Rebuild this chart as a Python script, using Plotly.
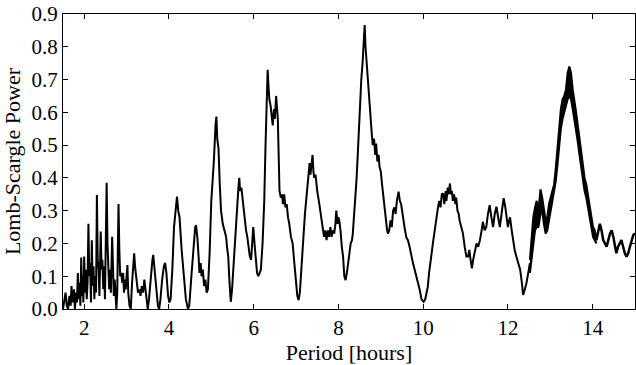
import plotly.graph_objects as go

# Main periodogram line (period in hours, Lomb-Scargle power)
period_main = [1.50,1.53,1.56,1.59,1.62,1.65,1.68,1.70,1.73,1.76,1.78,1.81,1.83,1.85,1.87,1.89,1.91,1.93,1.95,1.97,1.98,2.00,2.02,2.04,2.06,2.08,2.10,2.12,2.14,2.16,2.18,2.20,2.22,2.24,2.26,2.28,2.30,2.32,2.34,2.36,2.39,2.41,2.43,2.45,2.47,2.49,2.53,2.55,2.57,2.59,2.61,2.63,2.66,2.68,2.70,2.72,2.74,2.76,2.78,2.81,2.83,2.85,2.87,2.90,2.92,2.94,2.96,2.98,3.02,3.04,3.07,3.10,3.13,3.16,3.18,3.20,3.24,3.27,3.30,3.33,3.36,3.39,3.42,3.45,3.47,3.50,3.53,3.57,3.61,3.63,3.66,3.70,3.74,3.77,3.80,3.84,3.88,3.91,3.94,3.98,4.01,4.04,4.08,4.12,4.16,4.19,4.22,4.25,4.30,4.35,4.40,4.45,4.48,4.53,4.58,4.62,4.64,4.67,4.70,4.72,4.75,4.77,4.80,4.83,4.86,4.89,4.92,4.96,5.00,5.03,5.06,5.10,5.12,5.14,5.17,5.20,5.23,5.27,5.31,5.35,5.37,5.40,5.43,5.46,5.49,5.53,5.57,5.60,5.62,5.64,5.66,5.68,5.71,5.74,5.78,5.82,5.85,5.88,5.91,5.94,5.97,5.99,6.02,6.05,6.08,6.11,6.14,6.17,6.21,6.25,6.28,6.31,6.33,6.35,6.37,6.40,6.43,6.45,6.48,6.50,6.53,6.55,6.57,6.59,6.61,6.64,6.67,6.69,6.72,6.75,6.78,6.81,6.84,6.88,6.92,6.96,7.00,7.03,7.06,7.09,7.13,7.17,7.21,7.24,7.27,7.30,7.32,7.34,7.37,7.39,7.41,7.43,7.46,7.50,7.55,7.59,7.63,7.66,7.69,7.72,7.75,7.78,7.81,7.84,7.87,7.90,7.93,7.95,7.98,8.00,8.02,8.05,8.08,8.11,8.14,8.17,8.20,8.23,8.26,8.29,8.32,8.34,8.37,8.40,8.43,8.46,8.49,8.52,8.54,8.57,8.59,8.62,8.64,8.66,8.68,8.70,8.73,8.75,8.77,8.79,8.81,8.84,8.87,8.89,8.92,8.95,8.97,9.00,9.03,9.06,9.09,9.12,9.15,9.17,9.20,9.23,9.26,9.29,9.32,9.35,9.38,9.42,9.45,9.48,9.52,9.56,9.60,9.64,9.68,9.72,9.76,9.80,9.84,9.88,9.92,9.96,10.01,10.05,10.08,10.11,10.14,10.17,10.20,10.23,10.26,10.29,10.32,10.35,10.38,10.41,10.44,10.47,10.50,10.53,10.55,10.58,10.61,10.63,10.66,10.68,10.70,10.73,10.76,10.78,10.81,10.84,10.86,10.90,10.94,10.98,11.02,11.06,11.09,11.12,11.15,11.18,11.22,11.26,11.30,11.34,11.38,11.41,11.45,11.49,11.53,11.57,11.61,11.65,11.69,11.73,11.77,11.81,11.86,11.90,11.94,11.97,12.00,12.03,12.05,12.09,12.13,12.16,12.20,12.25,12.29,12.33,12.36,12.40,12.44,12.48,12.52]
power_main = [0.00,0.03,0.05,0.01,0.00,0.04,0.01,0.07,0.02,0.06,0.00,0.05,0.02,0.11,0.03,0.08,0.01,0.157,0.04,0.10,0.02,0.16,0.05,0.12,0.03,0.08,0.26,0.10,0.14,0.02,0.21,0.07,0.13,0.03,0.10,0.05,0.348,0.15,0.12,0.04,0.236,0.12,0.15,0.06,0.13,0.03,0.385,0.20,0.10,0.06,0.12,0.05,0.22,0.10,0.04,0.09,0.02,0.00,0.05,0.32,0.18,0.10,0.11,0.08,0.11,0.05,0.09,0.06,0.134,0.05,0.01,0.00,0.08,0.15,0.17,0.13,0.08,0.05,0.06,0.04,0.07,0.05,0.09,0.05,0.02,0.00,0.03,0.10,0.15,0.165,0.12,0.06,0.01,0.00,0.03,0.09,0.13,0.141,0.11,0.04,0.02,0.03,0.12,0.25,0.31,0.343,0.30,0.28,0.18,0.09,0.03,0.00,0.01,0.10,0.20,0.25,0.256,0.22,0.16,0.11,0.14,0.10,0.12,0.07,0.09,0.05,0.06,0.17,0.33,0.38,0.45,0.56,0.587,0.52,0.49,0.38,0.30,0.26,0.24,0.22,0.19,0.16,0.08,0.022,0.06,0.15,0.24,0.30,0.33,0.37,0.40,0.36,0.37,0.33,0.28,0.24,0.22,0.19,0.16,0.15,0.21,0.25,0.20,0.15,0.11,0.10,0.11,0.12,0.20,0.33,0.50,0.65,0.73,0.68,0.64,0.62,0.57,0.56,0.61,0.58,0.65,0.60,0.58,0.47,0.36,0.34,0.35,0.32,0.35,0.31,0.32,0.28,0.26,0.22,0.20,0.14,0.08,0.04,0.027,0.05,0.13,0.22,0.29,0.333,0.38,0.42,0.445,0.41,0.46,0.47,0.42,0.40,0.41,0.36,0.32,0.28,0.25,0.22,0.24,0.21,0.24,0.22,0.25,0.22,0.24,0.23,0.26,0.30,0.26,0.28,0.27,0.24,0.19,0.16,0.10,0.088,0.11,0.15,0.17,0.20,0.21,0.23,0.28,0.34,0.40,0.48,0.58,0.66,0.70,0.75,0.80,0.866,0.80,0.76,0.72,0.68,0.64,0.58,0.556,0.53,0.50,0.52,0.47,0.505,0.45,0.47,0.434,0.42,0.38,0.34,0.31,0.27,0.24,0.23,0.24,0.27,0.25,0.30,0.31,0.29,0.33,0.358,0.33,0.32,0.28,0.25,0.22,0.21,0.19,0.16,0.14,0.12,0.10,0.08,0.058,0.03,0.022,0.03,0.05,0.068,0.11,0.15,0.17,0.20,0.23,0.26,0.28,0.31,0.33,0.31,0.35,0.353,0.32,0.36,0.33,0.37,0.35,0.383,0.35,0.36,0.33,0.35,0.32,0.34,0.30,0.29,0.27,0.25,0.23,0.19,0.16,0.16,0.18,0.15,0.124,0.15,0.18,0.20,0.19,0.21,0.24,0.266,0.24,0.25,0.29,0.317,0.28,0.25,0.29,0.312,0.28,0.25,0.30,0.338,0.31,0.27,0.25,0.27,0.28,0.24,0.20,0.18,0.16,0.14,0.12,0.08,0.043,0.06,0.08,0.11,0.14]

# Thick (rapidly oscillating) band near 12.5-14.1 h: upper/lower envelopes
period_band = [12.52,12.56,12.60,12.64,12.68,12.72,12.77,12.81,12.85,12.89,12.93,12.97,13.01,13.05,13.09,13.13,13.17,13.21,13.25,13.29,13.33,13.37,13.41,13.45,13.49,13.53,13.57,13.61,13.65,13.69,13.73,13.77,13.81,13.85,13.89,13.93,13.97,14.01,14.05,14.09]
power_band_upper = [0.15,0.22,0.28,0.31,0.33,0.30,0.365,0.34,0.31,0.27,0.28,0.32,0.34,0.36,0.38,0.43,0.49,0.56,0.61,0.64,0.65,0.67,0.72,0.74,0.72,0.67,0.64,0.60,0.56,0.52,0.48,0.44,0.40,0.38,0.35,0.32,0.28,0.25,0.24,0.22]
power_band_lower = [0.11,0.16,0.21,0.24,0.25,0.25,0.29,0.30,0.26,0.23,0.24,0.27,0.30,0.32,0.35,0.39,0.44,0.50,0.55,0.58,0.60,0.62,0.64,0.65,0.64,0.61,0.58,0.54,0.51,0.47,0.43,0.39,0.36,0.34,0.31,0.28,0.25,0.22,0.21,0.20]

# Tail after the band
period_tail = [14.09,14.13,14.17,14.21,14.25,14.29,14.33,14.37,14.41,14.45,14.49,14.53,14.56,14.60,14.64,14.68,14.72,14.76,14.80,14.84,14.88,14.92,14.96,15.00]
power_tail = [0.21,0.24,0.26,0.24,0.21,0.20,0.19,0.21,0.23,0.24,0.22,0.19,0.17,0.19,0.20,0.21,0.19,0.17,0.16,0.17,0.19,0.21,0.226,0.23]

x_ticks = [2, 4, 6, 8, 10, 12, 14]
y_ticks = [0.0, 0.1, 0.2, 0.3, 0.4, 0.5, 0.6, 0.7, 0.8, 0.9]

fig = go.Figure()
fig.add_trace(go.Scatter(x=period_main, y=power_main, mode="lines",
                         line=dict(color="black", width=2), showlegend=False))
fig.add_trace(go.Scatter(x=period_band, y=power_band_lower, mode="lines",
                         line=dict(color="black", width=2), showlegend=False))
fig.add_trace(go.Scatter(x=period_band, y=power_band_upper, mode="lines",
                         line=dict(color="black", width=2), fill="tonexty",
                         fillcolor="black", showlegend=False))
fig.add_trace(go.Scatter(x=period_tail, y=power_tail, mode="lines",
                         line=dict(color="black", width=2.5), showlegend=False))

font_family = "Liberation Serif"
fig.update_layout(
    width=636, height=365,
    margin=dict(l=63, r=1, t=14, b=56),
    paper_bgcolor="white", plot_bgcolor="white",
    font=dict(family=font_family, color="black", size=21),
)
fig.update_xaxes(
    range=[1.5, 15], tickvals=x_ticks, ticktext=[str(v) for v in x_ticks],
    ticks="inside", ticklen=5, tickcolor="black", mirror="allticks",
    showline=True, linecolor="black", linewidth=1, showgrid=False, zeroline=False,
    tickfont=dict(size=21, family=font_family),
    title=dict(text="Period [hours]", font=dict(size=22, family=font_family), standoff=6),
)
fig.update_yaxes(
    range=[0, 0.9], tickvals=y_ticks, ticktext=[f"{v:.1f}" for v in y_ticks],
    ticks="inside", ticklen=5, tickcolor="black", mirror="allticks",
    showline=True, linecolor="black", linewidth=1, showgrid=False, zeroline=False,
    tickfont=dict(size=21, family=font_family),
    title=dict(text="Lomb-Scargle Power", font=dict(size=22, family=font_family), standoff=6),
)

fig.write_html("out.html")
